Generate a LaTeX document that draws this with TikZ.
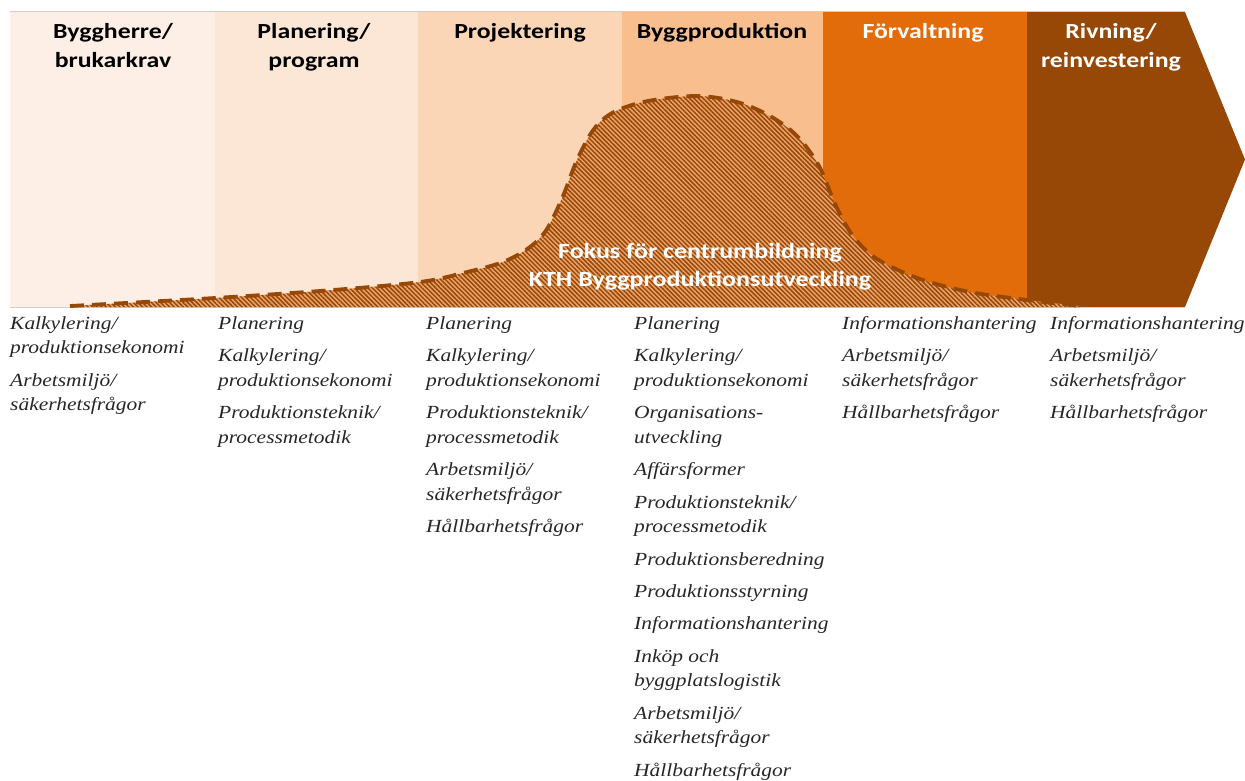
\documentclass[tikz,border=0pt]{standalone}
\usepackage{fontspec}
\setmainfont{Liberation Serif}
\newfontfamily\phasefont[FakeStretch=1.2]{Carlito}
\newfontfamily\topicfont[FakeStretch=1.16]{Liberation Serif}
\usetikzlibrary{patterns.meta}

\definecolor{bandA}{RGB}{253,239,229}
\definecolor{bandB}{RGB}{252,230,214}
\definecolor{bandC}{RGB}{250,213,182}
\definecolor{bandD}{RGB}{248,190,142}
\definecolor{bandE}{RGB}{227,108,10}
\definecolor{bandF}{RGB}{152,72,6}
\definecolor{focusfill}{RGB}{236,164,108}
\definecolor{focusline}{RGB}{152,72,6}
\definecolor{edgegrey}{RGB}{205,205,205}
\definecolor{topictext}{RGB}{38,38,38}

\newcommand{\itemgap}{\\[7.8pt]}

\begin{document}
\begin{tikzpicture}[x=1pt,y=-1pt,
  phase/.style={font=\phasefont\bfseries\fontsize{21.5}{29}\selectfont,
    align=center, anchor=north, inner sep=0pt},
  phasedark/.style={phase, text=black},
  phaselight/.style={phase, text=white},
  topics/.style={font=\topicfont\itshape\fontsize{18.5}{24.6}\selectfont,
    text=topictext, align=left, anchor=north west, inner sep=0pt},
  focuslabel/.style={font=\phasefont\bfseries\fontsize{21.7}{27.5}\selectfont,
    text=white, align=center, anchor=north, inner sep=0pt},
  focusedge/.style={draw=focusline, line width=3.8pt, dash pattern=on 14pt off 8pt}
]
\useasboundingbox (0,0) rectangle (1245,780);

% phase bands of the process arrow
\fill[bandA] (10,12) rectangle (215,307);
\fill[bandB] (215,12) rectangle (418,307);
\fill[bandC] (418,12) rectangle (622,307);
\fill[bandD] (622,12) rectangle (823,307);
\fill[bandE] (823,12) rectangle (1027,307);
\fill[bandF] (1027,12) -- (1185,12) -- (1245,159.5) -- (1185,307) -- (1027,307) -- cycle;
\draw[edgegrey, line width=1pt] (10,11.5) -- (1185,11.5);
\draw[edgegrey, line width=1pt] (10,307.5) -- (1185,307.5);

% focus area under the curve
\def\focuspts{(70,306) (215,298) (333,290) (420,282) (463,273) (503,262) (530,247)
  (547,229) (563,196) (577,160) (594,129) (614,112) (648,101) (697,96) (737,102)
  (770,116) (797,136) (819,166) (836,206) (853,236) (877,259) (920,279) (970,292)
  (1027,300) (1080,306)}
\fill[focusfill] (70,307) -- plot[smooth,tension=0.55] coordinates {\focuspts} -- (1080,307) -- cycle;
\fill[pattern={Lines[angle=-45,distance=3.2pt,line width=1.5pt]}, pattern color=focusline]
  (70,307) -- plot[smooth,tension=0.55] coordinates {\focuspts} -- (1080,307) -- cycle;
\draw[focusedge] plot[smooth,tension=0.55] coordinates {\focuspts};

% a leading strut puts the first baseline 0.7 line heights below each node's top
\node[focuslabel] (focus) at (700,239.5) {\strut Fokus för centrumbildning\\KTH Byggproduktionsutveckling};

% phase headings
\node[phasedark] (p1) at (113,17.7) {\strut Byggherre/\\brukarkrav};
\node[phasedark] (p2) at (314,17.7) {\strut Planering/\\program};
\node[phasedark] (p3) at (520,17.7) {\strut Projektering};
\node[phasedark] (p4) at (722,17.7) {\strut Byggproduktion};
\node[phaselight] (p5) at (923,17.7) {\strut Förvaltning};
\node[phaselight] (p6) at (1111,17.7) {\strut Rivning/\\reinvestering};

% topics for each phase
\node[topics] (t1) at (10,311.8) {\strut Kalkylering/\\produktionsekonomi\itemgap
  Arbetsmiljö/\\säkerhetsfrågor};
\node[topics] (t2) at (218,311.8) {\strut Planering\itemgap
  Kalkylering/\\produktionsekonomi\itemgap
  Produktionsteknik/\\processmetodik};
\node[topics] (t3) at (426,311.8) {\strut Planering\itemgap
  Kalkylering/\\produktionsekonomi\itemgap
  Produktionsteknik/\\processmetodik\itemgap
  Arbetsmiljö/\\säkerhetsfrågor\itemgap
  Hållbarhetsfrågor};
\node[topics] (t4) at (634,311.8) {\strut Planering\itemgap
  Kalkylering/\\produktionsekonomi\itemgap
  Organisations-\\utveckling\itemgap
  Affärsformer\itemgap
  Produktionsteknik/\\processmetodik\itemgap
  Produktionsberedning\itemgap
  Produktionsstyrning\itemgap
  Informationshantering\itemgap
  Inköp och\\byggplatslogistik\itemgap
  Arbetsmiljö/\\säkerhetsfrågor\itemgap
  Hållbarhetsfrågor};
\node[topics] (t5) at (842,311.8) {\strut Informationshantering\itemgap
  Arbetsmiljö/\\säkerhetsfrågor\itemgap
  Hållbarhetsfrågor};
\node[topics] (t6) at (1050,311.8) {\strut Informationshantering\itemgap
  Arbetsmiljö/\\säkerhetsfrågor\itemgap
  Hållbarhetsfrågor};
\end{tikzpicture}
\end{document}
